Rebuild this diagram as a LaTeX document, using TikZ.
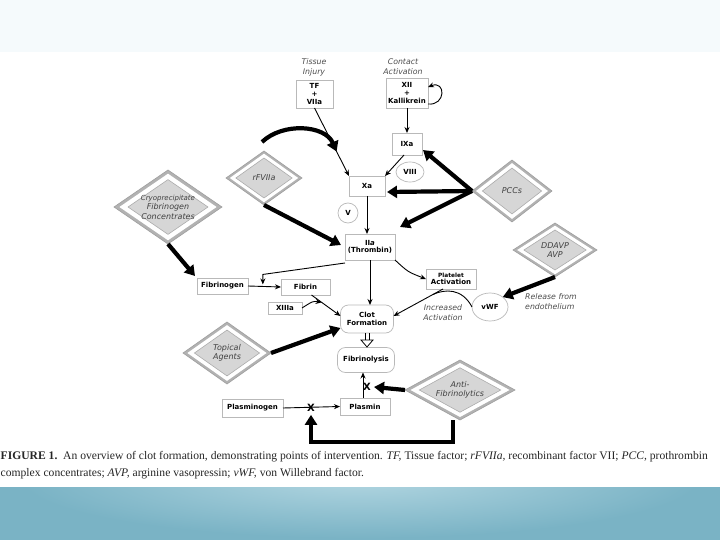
\documentclass[tikz,border=0pt]{standalone}
\usepackage{fontspec}
\setmainfont{Liberation Serif}
\setsansfont{DejaVu Sans}
\usetikzlibrary{arrows.meta,shapes.geometric,calc}
\definecolor{topbg}{RGB}{245,250,252}
\definecolor{band}{RGB}{122,179,197}
\definecolor{bandlight}{RGB}{178,214,225}
\definecolor{diaout}{RGB}{178,178,178}
\definecolor{diain}{RGB}{214,214,214}
\newcommand\mydia[6]{%
 \node[diamond, inner sep=0pt, outer sep=0pt, minimum width=2*#4, minimum height=2*#5, fill=diaout, draw=gray!75, line width=0.6pt] (#1) at (#2,#3) {};
 \node[diamond, inner sep=0pt, outer sep=0pt, minimum width=1.8*#4, minimum height=1.8*#5, fill=white] (#1w) at (#2,#3) {};
 \node[diamond, inner sep=0pt, outer sep=0pt, minimum width=1.48*#4, minimum height=1.48*#5, fill=diain, draw=gray!65, line width=0.6pt] (#1i) at (#2,#3) {};
 \node[dtext] (#1t) at (#2,#3) {#6};
}
\tikzset{
 box/.style={draw=gray!55, line width=0.7pt, fill=white, inner sep=1pt, outer sep=0pt, align=center, font=\sffamily\bfseries\fontsize{7}{7.6}\selectfont},
 rbox/.style={box, rounded corners=8pt},
 oval/.style={ellipse, draw=gray!55, line width=0.7pt, fill=white, inner sep=0pt, outer sep=0pt, font=\sffamily\bfseries\fontsize{7}{8}\selectfont},
 lbl/.style={align=center, text=gray!60!black, font=\sffamily\itshape\fontsize{7.8}{10}\selectfont, inner sep=0pt},
 dtext/.style={align=center, text=black!75, font=\sffamily\itshape\fontsize{8}{9.5}\selectfont, inner sep=0pt},
 arr/.style={line width=0.9pt, -{Stealth[length=6pt,width=5pt]}},
 fat/.style={line width=4.2pt, -{Triangle[length=10pt,width=12pt]}},
 xmark/.style={font=\sffamily\bfseries\fontsize{10}{10}\selectfont, inner sep=0pt},
 captext/.style={anchor=base west, inner sep=0pt, font=\fontsize{11.6}{13}\selectfont, text=black!85},
}
\begin{document}
\begin{tikzpicture}[x=1pt,y=-1pt]
\useasboundingbox (0,0) rectangle (720,540);
% background
\fill[white] (0,0) rectangle (720,540);
\fill[topbg] (0,0) rectangle (720,52);
\fill[band] (0,487) rectangle (720,540);
\begin{scope}
\clip (0,487) rectangle (720,540);
\shade[inner color=bandlight, outer color=band] (360,478) ellipse (340 and 60);
\end{scope}

% labels
\node[lbl] (tinj) at (314,67) {Tissue\\Injury};
\node[lbl] (cact) at (403,67) {Contact\\Activation};
\node[lbl, align=left, anchor=west] (rel) at (525,302) {Release from\\endothelium};
\node[lbl] (inc) at (443,313) {Increased\\Activation};

% diamonds
\mydia{rfv}{264}{178}{38}{27}{rFVIIa}
\mydia{cryo}{168}{207}{54}{37}{\fontsize{7}{8.5}\selectfont Cryoprecipitate\\Fibrinogen\\Concentrates}
\mydia{pcc}{512}{191}{40}{31}{PCCs}
\mydia{ddavp}{555}{250}{42}{27}{DDAVP\\AVP}
\mydia{topa}{227}{353}{44}{31}{Topical\\Agents}
\mydia{anti}{460}{390}{55}{30}{Anti-\\Fibrinolytics}

% boxes
\node[box, minimum width=37, minimum height=28] (tf) at (314.5,94) {TF\\+\\VIIa};
\node[box, minimum width=42, minimum height=30] (xii) at (407,93) {XII\\+\\Kallikrein};
\node[box, minimum width=30, minimum height=22] (ixa) at (407,144) {IXa};
\node[box, minimum width=36, minimum height=20] (xa) at (367,186) {Xa};
\node[oval, minimum width=28, minimum height=20] (viii) at (410,172) {VIII};
\node[oval, minimum width=20, minimum height=20] (v) at (348,213) {V};
\node[box, minimum width=50, minimum height=26] (iia) at (370,247) {II{\itshape a}\\(Thrombin)};
\node[box, minimum width=51, minimum height=16] (fgn) at (222.5,286) {Fibrinogen};
\node[box, minimum width=49, minimum height=16] (fib) at (305.5,287) {Fibrin};
\node[box, minimum width=34, minimum height=12] (xiii) at (285,308) {XIIIa};
\node[box, minimum width=50, minimum height=20] (plt) at (451,279) {{\fontsize{5.8}{6.5}\selectfont Platelet}\\Activation};
\node[oval, minimum width=36, minimum height=28] (vwf) at (490,307) {vWF};
\node[rbox, minimum width=53, minimum height=28] (clot) at (367,319) {Clot\\Formation};
\node[rbox, minimum width=57, minimum height=25] (fbl) at (366,360) {Fibrinolysis};
\node[box, minimum width=50, minimum height=17] (plm) at (365,406.5) {Plasmin};
\node[box, minimum width=61, minimum height=18] (pgn) at (252.5,408) {Plasminogen};

% junction coordinates
\coordinate (j0) at ($(tf.south)!0.64!(xa.north west)$);
\coordinate (j1) at ($(fgn.east)!0.45!(fib.west)$);
\coordinate (j2) at ($([xshift=6pt]fib.south)!0.35!([yshift=3pt]clot.west)$);
\coordinate (j3) at ($([xshift=-8pt]plt.south)!0.2!([yshift=3pt]clot.east)$);

% thin connectors
\draw[arr] (tf.south) -- (xa.north west);
\draw[arr] ([yshift=4pt]xii.south east) .. controls (446,106) and (446,80) .. ([yshift=6pt]xii.east);
\draw[arr] (xii.south) -- (ixa.north);
\draw[arr] ([xshift=-3pt]ixa.south) -- (xa.north east);
\draw[arr] (xa.south) -- (xa.south |- iia.north);
\draw[arr] ([yshift=-3pt]iia.south west) -- ([yshift=12pt]j1) -- ([yshift=2pt]j1);
\draw[arr] (fgn.east) -- (fib.west);
\draw[arr] ([xshift=6pt]fib.south) -- ([yshift=3pt]clot.west);
\draw[arr] (xiii.east) .. controls (313,301) .. (j2);
\draw[arr] (iia.south) -- (iia.south |- clot.north);
\draw[arr] (iia.south east) .. controls (408,272) .. (plt.west);
\draw[arr] ([xshift=-8pt]plt.south) -- ([yshift=3pt]clot.east);
\draw[line width=0.9pt] (vwf.west) .. controls (462,288) and (445,289) .. (j3);
\draw[line width=0.7pt] ([xshift=-2pt]clot.south) -- ++(0,7);
\draw[line width=0.7pt] ([xshift=2pt]clot.south) -- ++(0,7);
\draw[line width=0.8pt, fill=white] ($(clot.south)+(-6,7)$) -- ($(clot.south)+(6,7)$) -- ($(clot.south)+(0,14)$) -- cycle;
\draw[arr] ([xshift=-2pt]plm.north) -- ([xshift=-2pt]plm.north |- fbl.south);
\draw[arr] (pgn.east) -- (plm.west);

% thick connectors
\draw[fat] ([shift={(-2pt,9pt)}]rfv.north) .. controls (283,122) and (325,125) .. (j0);
\draw[fat] (rfv.south) -- ([shift={(-4pt,2pt)}]iia.west);
\draw[fat] (cryo.south) -- ([shift={(-2pt,2pt)}]fgn.north west);
\draw[fat] (pcc.west) -- ([shift={(1pt,-6pt)}]ixa.east);
\draw[fat] (pcc.west) -- ([shift={(2pt,-6pt)}]xa.east);
\draw[fat] (pcc.west) -- ([shift={(5pt,7pt)}]iia.north east);
\draw[fat] (ddavp.south) -- (vwf.north east);
\draw[fat] (topa.east) -- ([yshift=-9pt]clot.west);
\node[xmark] (cx1) at (367,387) {X};
\node[xmark] (cx2) at (311,408) {X};
\draw[fat] (anti.west) -- ([xshift=3pt]cx1.east);
\draw[fat] ([xshift=-7pt]anti.south) -- ++(0,22) -| ([yshift=-3pt]cx2.south);

% caption
\node[captext] (cap1) at (0.5,459) {\textbf{FIGURE 1.}\ \ An overview of clot formation, demonstrating points of intervention. \textit{TF,} Tissue factor; \textit{rFVIIa,} recombinant factor VII; \textit{PCC,} prothrombin};
\node[captext] (cap2) at (0.5,476) {complex concentrates; \textit{AVP,} arginine vasopressin; \textit{vWF,} von Willebrand factor.};
\end{tikzpicture}
\end{document}
